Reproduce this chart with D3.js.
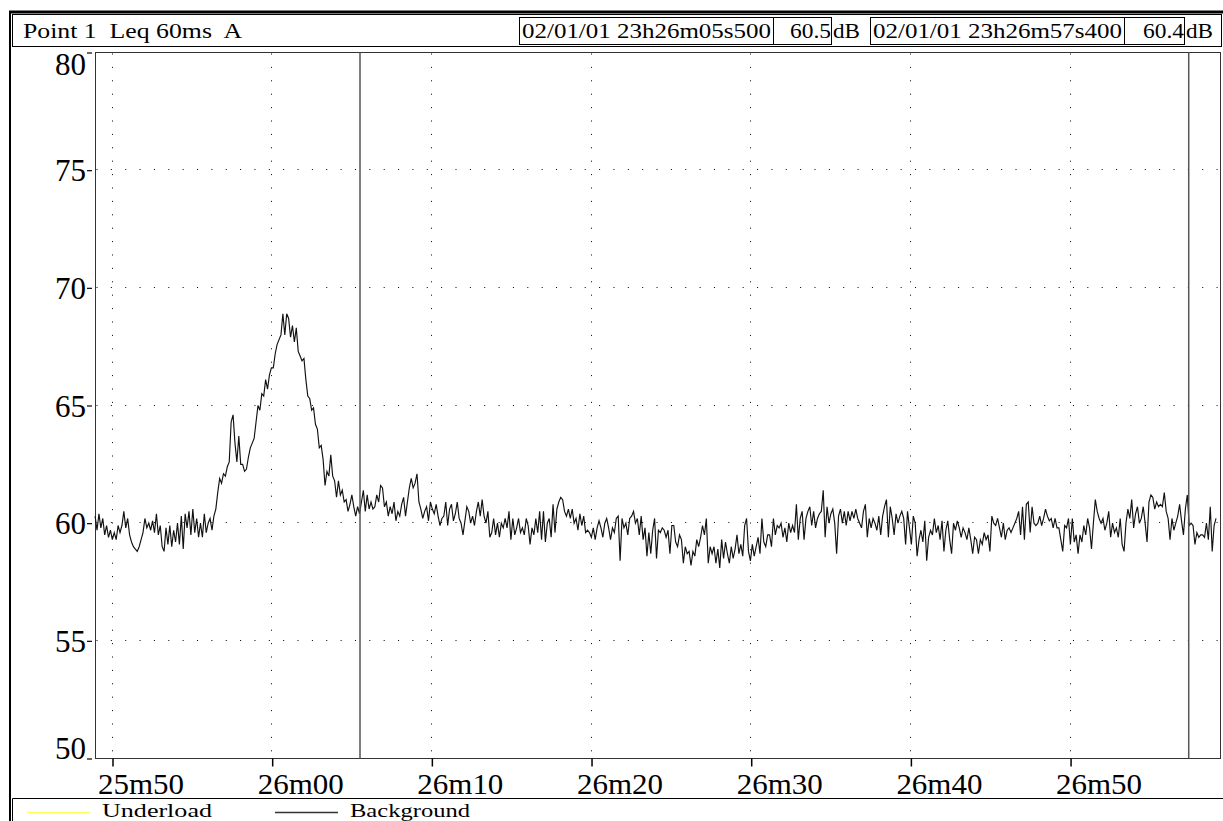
<!DOCTYPE html>
<html><head><meta charset="utf-8">
<script src="https://cdn.jsdelivr.net/npm/d3@7"></script>
<style>
html,body{margin:0;padding:0;background:#fff;}
svg{display:block;font-family:"Liberation Serif","Times New Roman",serif;}
svg text{white-space:pre;}
</style></head><body>
<svg id="c" width="1223" height="821"></svg>
<script>
// ---- data ----
const headerTitle = "Point 1  Leq 60ms  A";
const cursorTimes = [1565.5, 1617.4];            // 26m05s500, 26m57s400 (seconds within the hour)
const cursorStamps = ["02/01/01 23h26m05s500", "02/01/01 23h26m57s400"];
const cursorLevels = ["60.5", "60.4"];
const levelUnit = "dB";
const yTicks = [50, 55, 60, 65, 70, 75, 80];
const yGrid = [55, 60, 65, 70, 75];
const xTicks = [1550, 1560, 1570, 1580, 1590, 1600, 1610];
const xTickLabels = ["25m50", "26m00", "26m10", "26m20", "26m30", "26m40", "26m50"];
const legendNames = ["Underload", "Background"];
const legendColors = ["#ffff55", "#333333"];
const sampleStart = 1548.91;   // seconds
const sampleStep = 0.12;       // seconds between plotted samples
const levels = [
60.3,59.7,60.4,59.8,60.2,59.5,59.9,59.4,59.7,59.3,
59.6,59.3,59.9,59.6,59.9,60.5,59.8,60.2,59.5,59.2,
59.0,58.9,58.8,59.0,59.3,59.6,60.2,59.8,60.0,59.7,
60.1,59.6,60.4,59.5,59.9,59.0,58.8,59.8,59.1,59.9,
59.0,59.7,59.2,60.0,59.1,60.3,58.9,60.4,59.8,60.5,
59.5,60.6,59.6,60.2,59.4,60.0,59.4,60.4,59.6,60.0,
60.2,59.7,60.3,60.6,61.3,61.9,61.7,62.1,62.0,62.4,
62.6,64.3,64.6,63.4,62.6,63.7,62.5,62.5,62.2,62.3,
62.8,63.2,63.4,63.6,64.3,65.0,64.8,65.5,65.4,66.1,
65.7,66.3,66.6,66.6,67.2,67.6,67.8,68.0,68.9,
68.0,68.9,68.7,67.9,68.4,67.7,68.3,67.3,67.1,66.9,
67.0,66.1,65.4,65.3,64.8,64.9,64.2,64.0,63.2,63.3,
62.7,61.6,62.2,62.0,62.9,62.0,61.8,61.1,61.8,61.2,
61.4,60.9,61.0,60.5,60.8,61.2,60.7,60.3,60.7,60.4,
60.9,61.4,60.5,61.2,60.6,60.9,60.6,60.7,61.2,60.9,
61.6,61.5,60.7,60.9,60.3,60.7,60.4,60.9,60.1,60.5,
60.3,60.8,61.1,60.3,60.9,61.5,61.9,61.5,61.7,62.1,
60.9,60.6,60.2,60.5,60.7,60.1,60.9,60.6,60.4,60.8,
60.3,59.9,60.2,60.3,60.9,59.9,60.6,60.8,60.1,60.4,
60.9,60.2,60.0,59.5,60.1,60.7,60.5,60.0,60.3,59.9,
60.5,60.9,60.3,61.0,60.3,60.0,60.5,59.4,59.6,60.2,
59.5,60.0,59.4,60.0,59.8,60.2,59.8,60.5,59.3,60.2,
59.5,59.8,60.2,59.6,59.8,59.5,60.2,59.9,59.1,59.8,
59.5,60.2,59.6,60.5,59.3,60.5,59.2,60.0,60.2,59.4,
60.8,59.6,60.6,60.9,61.1,61.0,60.5,60.3,60.6,60.2,
60.6,60.0,60.2,59.7,60.4,59.9,60.3,59.6,59.7,59.6,
59.4,59.8,59.3,59.8,60.1,59.8,59.4,60.0,60.2,59.8,
59.3,59.8,59.6,60.2,60.3,58.4,60.2,59.8,60.0,59.5,
60.2,60.3,60.5,60.0,60.2,59.5,60.3,59.3,59.8,58.6,
59.6,58.7,59.7,60.2,58.5,59.7,59.6,59.8,59.7,
59.4,59.7,58.7,59.9,59.9,59.2,59.0,59.5,59.3,58.3,
59.0,58.7,58.8,58.2,58.8,58.6,59.3,59.0,59.4,59.9,
59.5,60.2,58.3,59.0,58.7,59.0,58.3,58.9,58.1,59.3,
58.5,59.2,58.7,58.3,59.0,58.5,58.9,59.5,58.7,59.1,
58.6,59.9,60.2,58.8,58.4,59.1,58.6,59.0,59.4,58.7,
60.2,59.2,59.0,59.5,59.5,59.0,60.2,59.5,59.9,59.8,
60.0,59.4,59.8,59.2,60.0,59.6,59.9,59.6,60.8,59.3,
60.2,60.5,59.3,60.2,60.5,60.7,59.9,60.5,59.8,60.2,
60.4,60.5,61.4,59.4,60.7,60.0,60.4,60.6,60.0,58.7,
60.3,60.6,60.0,60.5,59.9,60.5,60.1,60.5,60.2,
60.6,60.2,60.0,59.8,60.5,60.8,59.4,60.2,59.8,60.2,
60.0,59.7,60.3,59.5,60.3,60.7,61.0,59.4,60.7,60.2,
59.5,60.4,60.0,60.3,60.5,60.2,59.1,60.5,59.8,59.1,
60.3,60.0,58.6,59.3,59.7,59.2,60.1,58.4,59.4,59.7,
59.5,60.2,59.6,59.9,59.3,60.1,58.8,59.7,60.1,59.3,
58.7,60.0,59.7,60.1,59.8,59.4,59.8,59.6,59.3,59.8,
59.3,58.7,59.4,59.3,58.7,59.3,59.1,59.6,59.3,59.5,
58.8,60.3,60.0,59.9,60.2,59.8,59.4,60.0,59.3,59.7,
59.8,59.6,59.8,60.0,60.2,60.5,59.5,60.7,59.3,60.8,
60.9,59.6,60.7,60.0,59.9,60.0,60.3,59.9,60.2,
60.6,60.3,60.1,60.2,59.8,60.2,59.8,59.8,59.3,58.8,
59.9,59.8,60.2,59.1,60.2,59.2,59.5,58.7,59.5,59.2,
59.9,59.5,60.2,59.8,58.9,60.0,61.0,60.5,60.2,60.0,
60.2,59.7,60.0,60.5,59.4,60.0,59.6,59.8,59.4,60.2,
59.1,58.8,60.0,60.6,60.2,61.0,59.8,60.4,60.7,60.0,
60.2,60.7,60.0,59.2,60.9,61.2,61.1,60.6,60.9,60.7,
60.8,60.7,61.3,60.5,60.2,59.3,60.2,59.7,60.0,60.3,
60.8,60.1,59.5,60.6,61.2,59.9,60.0,59.9,59.1,59.6,
59.4,59.5,59.5,59.4,60.0,59.3,60.7,58.8,59.9,60.2
];

// ---- drawing ----
const svg = d3.select("#c");
const plot = {left: 95.5, right: 1220.5, top: 52.5, bottom: 758.5};
const x = d3.scaleLinear().domain([1548.935, 1619.39]).range([plot.left, plot.right]);
const y = d3.scaleLinear().domain([50, 80]).range([plot.bottom, plot.top]);
const crisp = v => Math.round(v) + 0.5;
const FONT = "Liberation Serif, Times New Roman, serif";

// outer frame
svg.append("line").attr("x1", 9).attr("x2", 1223).attr("y1", 12).attr("y2", 12)
  .attr("stroke", "#000").attr("stroke-width", 3);
svg.append("line").attr("x1", 10).attr("x2", 10).attr("y1", 11).attr("y2", 821)
  .attr("stroke", "#000").attr("stroke-width", 2);

// header
svg.append("rect").attr("x", 12.5).attr("y", 14.5).attr("width", 1209).attr("height", 32)
  .attr("fill", "none").attr("stroke", "#000");
svg.append("text").attr("x", 23).attr("y", 38).attr("font-size", 22)
  .attr("textLength", 219).attr("lengthAdjust", "spacingAndGlyphs").text(headerTitle);

const hdrBoxes = [
  {x: 519.5, w: 254, stampX: 522, lvlBox: 773.5, lvlW: 58, lvlX: 790, unitX: 833},
  {x: 870.5, w: 254, stampX: 873, lvlBox: 1124.5, lvlW: 60, lvlX: 1143, unitX: 1186}
];
hdrBoxes.forEach((b, i) => {
  svg.append("rect").attr("x", b.x).attr("y", 17.5).attr("width", b.w).attr("height", 27)
    .attr("fill", "none").attr("stroke", "#000");
  svg.append("rect").attr("x", b.lvlBox).attr("y", 17.5).attr("width", b.lvlW).attr("height", 27)
    .attr("fill", "none").attr("stroke", "#000");
  svg.append("text").attr("x", b.stampX).attr("y", 38).attr("font-size", 22)
    .attr("textLength", 249).attr("lengthAdjust", "spacingAndGlyphs").text(cursorStamps[i]);
  svg.append("text").attr("x", b.lvlX).attr("y", 38).attr("font-size", 22)
    .attr("textLength", 41).attr("lengthAdjust", "spacingAndGlyphs").text(cursorLevels[i]);
  svg.append("text").attr("x", b.unitX).attr("y", 38).attr("font-size", 22)
    .attr("textLength", 27).attr("lengthAdjust", "spacingAndGlyphs").text(levelUnit);
});

// grid (dotted)
const grid = svg.append("g").attr("stroke", "#000").attr("stroke-width", 1);
grid.selectAll("line.h").data(yGrid).join("line").attr("class", "h")
  .attr("x1", plot.left + 1).attr("x2", plot.right)
  .attr("y1", d => crisp(y(d)) - 1).attr("y2", d => crisp(y(d)) - 1)
  .attr("stroke-dasharray", "1,13.36");
grid.selectAll("line.v").data(xTicks).join("line").attr("class", "v")
  .attr("x1", d => crisp(x(d)) - 1).attr("x2", d => crisp(x(d)) - 1)
  .attr("y1", plot.top + 1).attr("y2", plot.bottom)
  .attr("stroke-dasharray", "1,12.4");

// plot border
svg.append("rect").attr("x", plot.left).attr("y", plot.top)
  .attr("width", plot.right - plot.left).attr("height", plot.bottom - plot.top)
  .attr("fill", "none").attr("stroke", "#333").attr("stroke-width", 1);

// trace
const series = levels.map((v, i) => ({t: sampleStart + i * sampleStep, v}));
svg.append("path").datum(series)
  .attr("fill", "none").attr("stroke", "#111").attr("stroke-width", 1.15)
  .attr("stroke-linejoin", "miter")
  .attr("d", d3.line().x(d => x(d.t)).y(d => y(d.v)));

// cursors
svg.selectAll("line.cursor").data(cursorTimes).join("line").attr("class", "cursor")
  .attr("x1", d => x(d)).attr("x2", d => x(d))
  .attr("y1", plot.top).attr("y2", plot.bottom)
  .attr("stroke", "#555").attr("stroke-width", 1.5);

// y axis
const yAxis = svg.append("g").attr("transform", "translate(92,0)")
  .call(d3.axisLeft(y).tickValues(yTicks).tickSize(5).tickPadding(1).tickFormat(d3.format("d")));
yAxis.attr("font-family", FONT);
yAxis.select(".domain").remove();
yAxis.selectAll(".tick line").attr("stroke", "#000").attr("stroke-width", 1.2);
yAxis.selectAll(".tick text")
  .attr("font-family", FONT).attr("font-size", 31).attr("fill", "#000")
  .attr("dy", d => d === 80 ? "0.72em" : d === 50 ? "0em" : "0.34em");

// x axis
const xAxis = svg.append("g").attr("transform", `translate(0,${plot.bottom})`)
  .call(d3.axisBottom(x).tickValues(xTicks).tickSize(8).tickFormat((d, i) => xTickLabels[i]));
xAxis.attr("font-family", FONT);
xAxis.select(".domain").remove();
xAxis.selectAll(".tick line").attr("stroke", "#000").attr("stroke-width", 1.5);
xAxis.selectAll(".tick text")
  .attr("font-family", FONT).attr("font-size", 29.5).attr("fill", "#000")
  .attr("text-anchor", "start").attr("x", -15).attr("y", 35).attr("dy", "0")
  .attr("textLength", 86).attr("lengthAdjust", "spacingAndGlyphs");

// legend
svg.append("line").attr("x1", 12.5).attr("x2", 1223).attr("y1", 798.5).attr("y2", 798.5)
  .attr("stroke", "#000");
svg.append("line").attr("x1", 12.5).attr("x2", 12.5).attr("y1", 798.5).attr("y2", 821)
  .attr("stroke", "#000");
const legendPos = [{lx: 27, tx: 102, w: 110}, {lx: 275, tx: 350, w: 120}];
legendNames.forEach((n, i) => {
  svg.append("line").attr("x1", legendPos[i].lx).attr("x2", legendPos[i].lx + 63)
    .attr("y1", 812.5).attr("y2", 812.5).attr("stroke", legendColors[i]).attr("stroke-width", 1.5);
  svg.append("text").attr("x", legendPos[i].tx).attr("y", 817).attr("font-size", 19)
    .attr("textLength", legendPos[i].w).attr("lengthAdjust", "spacingAndGlyphs").text(n);
});
</script>
</body></html>
